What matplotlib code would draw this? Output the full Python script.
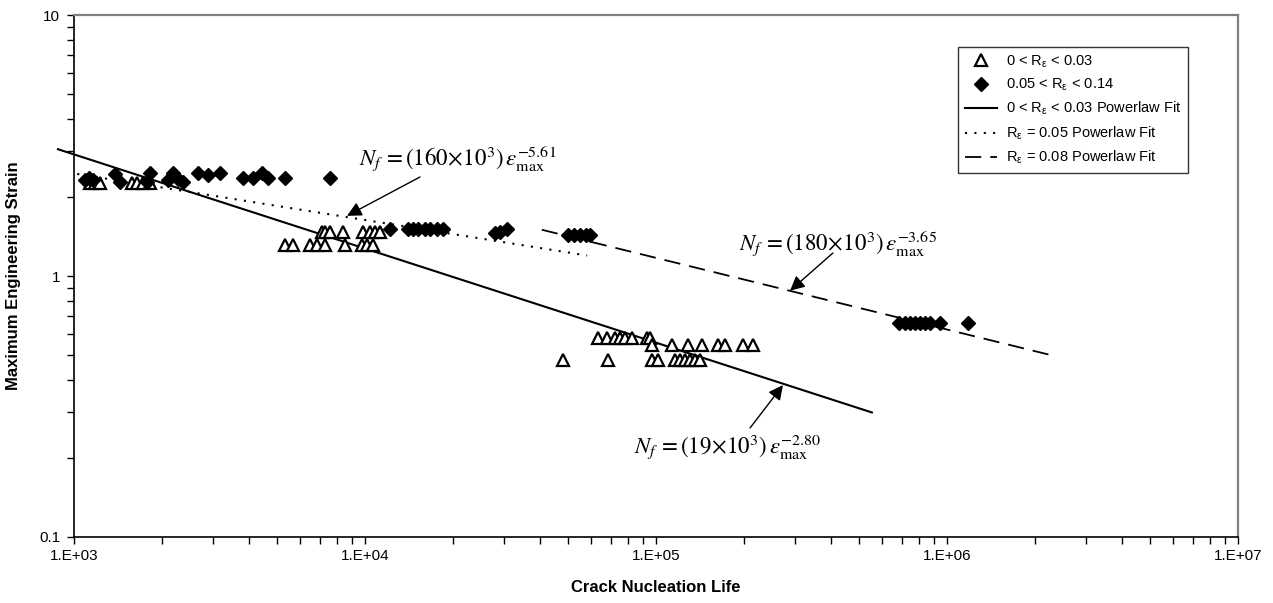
import matplotlib
matplotlib.use("Agg")
import matplotlib.pyplot as plt
from matplotlib.ticker import FixedLocator, FixedFormatter, LogLocator, NullFormatter

plt.rcParams['font.family'] = ['Liberation Sans', 'DejaVu Sans']
plt.rcParams['mathtext.fontset'] = 'stix'

# ---- data ----
tri_life = [1135, 1181, 1228, 1582, 1646, 1726, 1824,
            7115, 7287, 7581, 8403, 9843, 10404, 10825, 11258,
            5311, 5656, 6471, 6840, 7287, 8534, 9765, 10160, 10654,
            63200, 67870, 72300, 75200, 78240, 82700, 93140, 95370,
            96900, 113500, 128800, 143900, 163400, 172700, 199100, 215400,
            47900, 68420, 96900, 101600, 116200, 120900, 125800, 130900, 136100, 141600]
tri_strain = [2.27] * 7 + [1.47] * 8 + [1.31] * 9 + [0.579] * 8 + [0.544] * 8 + [0.477] * 10

dia_life = [1091, 1126, 1162, 1383, 1439, 1824, 1781, 2104, 2189, 2278, 2370,
            2668, 2887, 3176, 3808, 4122, 4426, 4642, 5311, 7581,
            12180, 14050, 14620, 15210, 16080, 16730, 17680, 18540,
            27970, 29100, 30760, 49830, 52260, 54800, 57480, 59330,
            684000, 717500, 746400, 776200, 807600, 840200, 874200, 946100, 1181000]
dia_strain = [2.33, 2.37, 2.33, 2.46, 2.29, 2.48, 2.29, 2.33, 2.48, 2.35, 2.29,
              2.48, 2.43, 2.48, 2.37, 2.37, 2.48, 2.37, 2.37, 2.37,
              1.51, 1.51, 1.51, 1.51, 1.51, 1.51, 1.51, 1.51,
              1.46, 1.48, 1.51, 1.44, 1.44, 1.44, 1.44, 1.44,
              0.66, 0.66, 0.66, 0.66, 0.66, 0.66, 0.66, 0.66, 0.66]

# fit line end points (life, strain)
fit_low_life = [881, 552000]
fit_low_strain = [3.06, 0.300]
fit_05_life = [1026, 58000]
fit_05_strain = [2.46, 1.198]
fit_08_life = [40500, 2270000]
fit_08_strain = [1.504, 0.498]

legend_labels = [r'0 < R$_\mathregular{ε}$ < 0.03',
                 r'0.05 < R$_\mathregular{ε}$ < 0.14',
                 r'0 < R$_\mathregular{ε}$ < 0.03 Powerlaw Fit',
                 r'R$_\mathregular{ε}$ = 0.05 Powerlaw Fit',
                 r'R$_\mathregular{ε}$ = 0.08 Powerlaw Fit']

eq_labels = [r'$N_f\,=(160\!\times\!10^3)\,\varepsilon_{\max}^{-5.61}$',
             r'$N_f\,=(180\!\times\!10^3)\,\varepsilon_{\max}^{-3.65}$',
             r'$N_f\,=(19\!\times\!10^3)\,\varepsilon_{\max}^{-2.80}$']

xtick_vals = [1e3, 1e4, 1e5, 1e6, 1e7]
xtick_labels = ['1.E+03', '1.E+04', '1.E+05', '1.E+06', '1.E+07']
ytick_vals = [0.1, 1, 10]
ytick_labels = ['0.1', '1', '10']

fig = plt.figure(figsize=(12.73, 6.03), dpi=100)
ax = fig.add_axes([74 / 1273, 1 - 537 / 603, 1164 / 1273, 522 / 603])

ax.set_xscale('log')
ax.set_yscale('log')
ax.set_xlim(1e3, 1e7)
ax.set_ylim(0.1, 10)

h1, = ax.plot(tri_life, tri_strain, linestyle='none', marker='^', markersize=8.5,
              markerfacecolor='white', markeredgecolor='black', markeredgewidth=1.6, zorder=3)
h2, = ax.plot(dia_life, dia_strain, linestyle='none', marker='D', markersize=7.5,
              markerfacecolor='black', markeredgecolor='black', zorder=4)
h3, = ax.plot(fit_low_life, fit_low_strain, color='black', lw=1.5, clip_on=False, zorder=2)
h4, = ax.plot(fit_05_life, fit_05_strain, color='black', lw=1.5, linestyle=(0, (1, 3.5)), zorder=2)
h5, = ax.plot(fit_08_life, fit_08_strain, color='black', lw=1.3, linestyle=(0, (9, 5)), zorder=2)

ax.xaxis.set_major_locator(FixedLocator(xtick_vals))
ax.xaxis.set_major_formatter(FixedFormatter(xtick_labels))
ax.xaxis.set_minor_locator(LogLocator(base=10, subs=range(2, 10)))
ax.xaxis.set_minor_formatter(NullFormatter())
ax.yaxis.set_major_locator(FixedLocator(ytick_vals))
ax.yaxis.set_major_formatter(FixedFormatter(ytick_labels))
ax.yaxis.set_minor_locator(LogLocator(base=10, subs=range(2, 10)))
ax.yaxis.set_minor_formatter(NullFormatter())
ax.tick_params(which='both', direction='out', length=5, width=1, labelsize=11, color='black')
ax.tick_params(axis='x', pad=4)
ax.tick_params(axis='y', pad=5)

for s in ['top', 'right']:
    ax.spines[s].set_color('#808080')
    ax.spines[s].set_linewidth(1.6)
for s in ['left', 'bottom']:
    ax.spines[s].set_color('black')
    ax.spines[s].set_linewidth(1.2)

ax.set_xlabel('Crack Nucleation Life', fontsize=12, fontweight='bold', labelpad=12)
ax.set_ylabel('Maximum Engineering Strain', fontsize=12, fontweight='bold', labelpad=13)

arrow = dict(arrowstyle='-|>', mutation_scale=22, color='black', lw=1, shrinkA=0, shrinkB=0)
# arrows: tip on fit line, tail near the equation
ax.annotate('', xy=(8670, 1.70), xytext=(15450, 2.395), arrowprops=arrow)
ax.annotate('', xy=(288800, 0.878), xytext=(405500, 1.225), arrowprops=arrow)
ax.annotate('', xy=(273200, 0.382), xytext=(210400, 0.2616), arrowprops=arrow)
# equations
ax.text(20870, 2.80, eq_labels[0], fontsize=16.5, ha='center', va='center')
ax.text(422000, 1.326, eq_labels[1], fontsize=16.5, ha='center', va='center')
ax.text(176700, 0.221, eq_labels[2], fontsize=16.5, ha='center', va='center')

leg = ax.legend([h1, h2, h3, h4, h5], legend_labels, loc='upper right',
                bbox_to_anchor=((1188 - 74) / 1164, (537 - 47) / 522), frameon=True, fancybox=False,
                edgecolor='black', fontsize=10.5, handlelength=2.2, handletextpad=0.6,
                labelspacing=0.5, borderpad=0.45, borderaxespad=0)
leg.get_frame().set_linewidth(1.0)

fig.savefig('out.png', dpi=100)
